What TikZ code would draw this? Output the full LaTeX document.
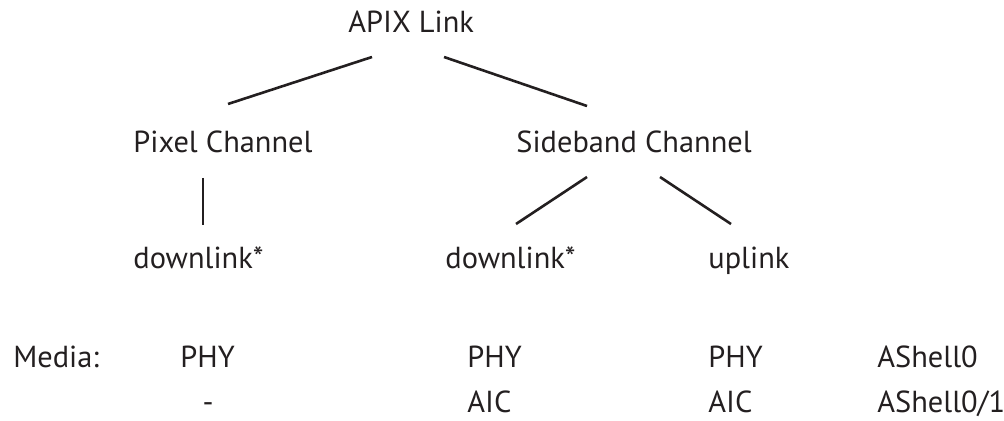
\documentclass[tikz,border=0pt]{standalone}
\usepackage{fontspec}
\setmainfont{PT Sans}
\usepackage{xcolor}
\definecolor{inkblack}{HTML}{231F20}
\tikzset{%
	tree entry/.style={
		anchor=base west,
		inner sep=0pt,
		text=inkblack,
		font=\fontsize{15.2}{18}\selectfont
	},
	branch/.style={
		draw=inkblack,
		line width=1.3pt
	},
}
\begin{document}
\begin{tikzpicture}[x=0.5pt, y=-0.5pt]
	\useasboundingbox (0,0) rectangle (1004,421);
	% tree
	\node[tree entry] (apix) at (348,33) {APIX Link};
	\node[tree entry] (pixel) at (133,153) {Pixel Channel};
	\node[tree entry] (sideband) at (516,153) {Sideband Channel};
	\node[tree entry] (pixeldown) at (133,269) {downlink*};
	\node[tree entry] (sidedown) at (445,269) {downlink*};
	\node[tree entry] (sideup) at (708,269) {uplink};
	% branch ends
	\coordinate (apixL) at (372,57);
	\coordinate (apixR) at (444,57);
	\coordinate (pixelT) at (228,104);
	\coordinate (sidebandT) at (587,106);
	\coordinate (pixelB) at (203,178);
	\coordinate (pixeldownT) at (203,225);
	\coordinate (sidebandL) at (587,177);
	\coordinate (sidebandR) at (660,177);
	\coordinate (sidedownT) at (516,224);
	\coordinate (sideupT) at (731,224);
	\draw[branch] (apixL) -- (pixelT);
	\draw[branch] (apixR) -- (sidebandT);
	\draw[branch] (pixelB) -- (pixeldownT);
	\draw[branch] (sidebandL) -- (sidedownT);
	\draw[branch] (sidebandR) -- (sideupT);
	% media table
	\node[tree entry] (media) at (13,367) {Media:};
	\node[tree entry] (phyA) at (180,367) {PHY};
	\node[tree entry] (phyB) at (467,367) {PHY};
	\node[tree entry] (phyC) at (708,367) {PHY};
	\node[tree entry] (ashellA) at (877,367) {AShell0};
	\node[tree entry, anchor=base] (none) at (208,412) {-};
	\node[tree entry] (aicB) at (467,412) {AIC};
	\node[tree entry] (aicC) at (708,412) {AIC};
	\node[tree entry] (ashellB) at (877,412) {AShell0/1};
\end{tikzpicture}
\end{document}
